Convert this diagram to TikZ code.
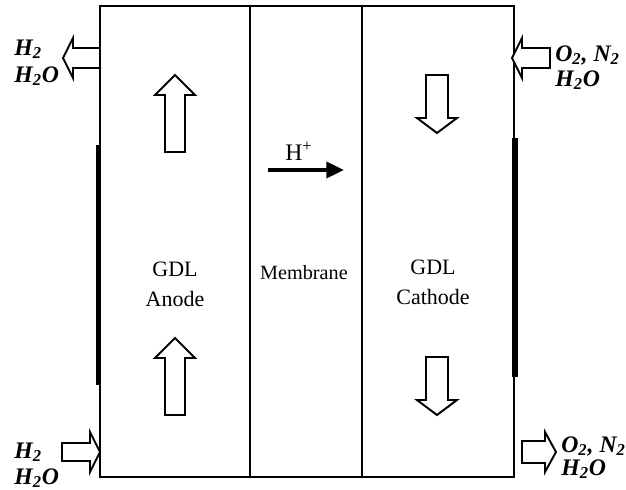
\documentclass[tikz,border=0pt]{standalone}
\usepackage{fontspec}
\setmainfont{Liberation Serif}
\usetikzlibrary{arrows.meta}

\tikzset{
  fatarrow/.style={draw, line width=1.1pt, fill=white, line join=miter},
  gas/.style={font=\fontsize{13.5}{15}\selectfont\bfseries\itshape, anchor=base west, inner sep=0pt},
  layer/.style={font=\fontsize{12.5}{17}\selectfont, align=center},
}

% tip x, tip y, direction, length, head length, head half width, shaft half width
\newcommand{\fatarrow}[7]{%
  \draw[fatarrow, shift={(#1,#2)}, rotate=#3]
    (0,0) -- (-#5,#6) -- (-#5,#7) -- (-#4,#7) -- (-#4,-#7) -- (-#5,-#7) -- (-#5,-#6) -- cycle;}

\begin{document}
\begin{tikzpicture}[x=0.02cm, y=-0.02cm]
  \useasboundingbox (0,0) rectangle (626,490);
  % the three layers
  \draw[line width=1.2pt] (100,6) rectangle (514,477);
  \draw[line width=1.2pt] (250,6) -- (250,477) (362,6) -- (362,477);
  % current collectors
  \draw[line width=3pt] (98.5,145) -- (98.5,385);
  \draw[line width=3pt] (515,138) -- (515,377);

  \node[layer] (anode) at (175,284) {GDL\\Anode};
  \node[layer] (cathode) at (433,282) {GDL\\Cathode};
  \node[layer, font=\fontsize{11.5}{13}\selectfont] (membrane) at (304,273) {Membrane};

  % proton flow
  \coordinate (hstart) at (268,170);
  \coordinate (hend) at (344,170);
  \draw[line width=2.2pt, -{Triangle[length=10pt,width=9pt]}] (hstart) -- (hend);
  \node[layer, font=\fontsize{13.5}{15}\selectfont] (proton) at (299,151) {H\textsuperscript{+}};

  % flow arrows in the layers
  \fatarrow{175}{75}{90}{77}{20}{20}{10}
  \fatarrow{175}{338}{90}{77}{20}{20}{10}
  \fatarrow{437}{133}{-90}{58}{15}{20}{11}
  \fatarrow{437}{415}{-90}{58}{15}{20}{11}

  % inlets and outlets
  \fatarrow{63}{58}{180}{37}{10}{20}{10}
  \fatarrow{512}{58}{180}{38}{10}{20}{10}
  \fatarrow{100}{452}{0}{38}{10}{20}{9}
  \fatarrow{556}{452}{0}{34}{11}{20}{11}

  \node[gas] (h2a) at (14,55) {H\textsubscript{2}};
  \node[gas] (h2oa) at (14,82) {H\textsubscript{2}O};
  \node[gas] (o2c) at (555,61) {O\textsubscript{2}, N\textsubscript{2}};
  \node[gas] (h2oc) at (555,86) {H\textsubscript{2}O};
  \node[gas] (h2b) at (14,458) {H\textsubscript{2}};
  \node[gas] (h2ob) at (14,484) {H\textsubscript{2}O};
  \node[gas] (o2d) at (561,452) {O\textsubscript{2}, N\textsubscript{2}};
  \node[gas] (h2od) at (561,475) {H\textsubscript{2}O};
\end{tikzpicture}
\end{document}
